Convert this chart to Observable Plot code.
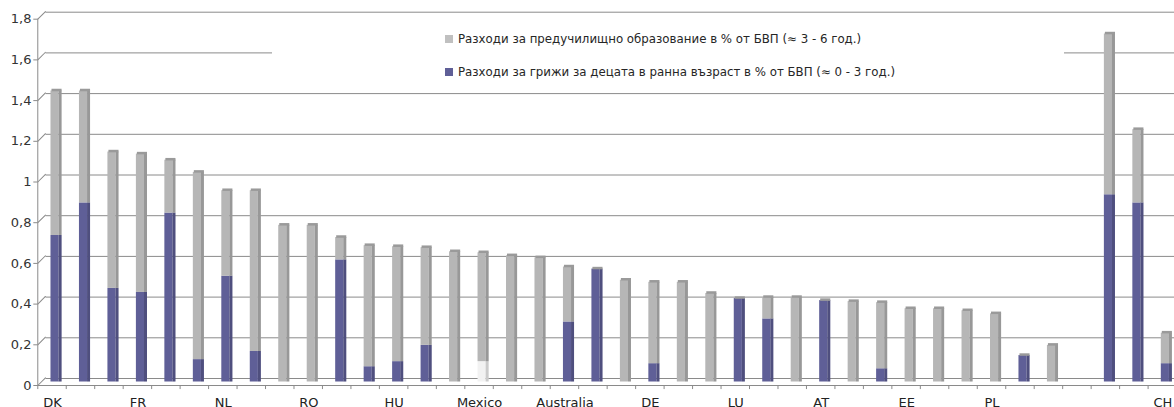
<!DOCTYPE html>
<html>
<head>
<meta charset="utf-8">
<script src="https://cdn.jsdelivr.net/npm/d3@7"></script>
<script src="https://cdn.jsdelivr.net/npm/@observablehq/plot@0.6"></script>
<style>
  html, body { margin: 0; padding: 0; background: #fff; overflow: hidden; }
  #wrap { position: relative; width: 1174px; height: 407px; font-family: "DejaVu Sans", sans-serif; }
  #legend { position: absolute; left: 272px; top: 22px; width: 792px; height: 62px; background: #fff; }
  .item { position: absolute; left: 173px; display: flex; align-items: center; height: 16px; font-size: 11.8px; color: #262626; white-space: nowrap; }
  .sw { width: 8px; height: 8px; margin-right: 5px; }
</style>
</head>
<body>
<div id="wrap"></div>
<script>
// Category labels (Excel shows only every third one)
const labels = ["DK","","","FR","","","NL","","","RO","","","HU","","","Mexico","","","Australia","","","DE","","","LU","","","AT","","","EE","","","PL","","","","","","CH"];
// Expenditure on early childhood care, % of GDP (≈ 0 - 3 years)
const careValues = [0.72,0.88,0.46,0.44,0.83,0.11,0.52,0.15,0,0,0.60,0.075,0.10,0.18,0,0.10,0,0,0.295,0.555,0,0.09,0,0,0.41,0.31,0,0.40,0,0.065,0,0,0,0,0.13,0,null,0.92,0.88,0.09];
// Expenditure on pre-primary education, % of GDP (≈ 3 - 6 years)
const preschoolValues = [0.71,0.55,0.67,0.68,0.26,0.92,0.42,0.79,0.77,0.77,0.11,0.595,0.565,0.48,0.64,0.535,0.62,0.61,0.27,0,0.50,0.40,0.49,0.435,0,0.105,0.415,0,0.395,0.325,0.36,0.36,0.35,0.335,0,0.18,null,0.79,0.36,0.15];
const yTicks = [0,0.2,0.4,0.6,0.8,1,1.2,1.4,1.6,1.8];
const legendLabels = [
  "Разходи за предучилищно образование в % от БВП (≈ 3 - 6 год.)",
  "Разходи за грижи за децата в ранна възраст в % от БВП (≈ 0 - 3 год.)"
];

const idx = d3.range(labels.length);
const rows = [];
const totals = [];
idx.forEach(i => {
  if (careValues[i] != null) rows.push({i, kind: labels[i] === "Mexico" ? "mexico" : "care", value: careValues[i]});
  if (preschoolValues[i] != null) rows.push({i, kind: "pre", value: preschoolValues[i]});
  if (careValues[i] != null || preschoolValues[i] != null) totals.push({i, total: (careValues[i] || 0) + (preschoolValues[i] || 0)});
});

const colors = {pre: "#b6b6b6", care: "#5f5f97", mexico: "#f2f2f2"};
const axisColor = "#8a8a8a";
const lineShape = {draw(context, l) { context.moveTo(0, 0); context.lineTo(0, -l); }};

const chart = Plot.plot({
  width: 1174,
  height: 407,
  marginLeft: 41.8,
  marginRight: -6.6,
  marginTop: 15.2,
  marginBottom: 25.5,
  style: {fontFamily: "DejaVu Sans, sans-serif", fontSize: "13px", color: "#333", background: "transparent", overflow: "visible"},
  x: {type: "band", domain: idx, paddingInner: 0.61, paddingOuter: 0.305, round: false, axis: null},
  y: {domain: [0, 1.8], axis: null},
  color: {domain: ["pre", "care", "mexico"], range: [colors.pre, colors.care, colors.mexico]},
  marks: [
    // back-wall gridlines
    Plot.ruleY(yTicks, {dy: -3.5, insetLeft: 3.7, stroke: axisColor, strokeWidth: 1}),
    // 3D connectors from front axis ticks to back wall
    Plot.vector(yTicks, {x: () => 0, y: d => d, dx: -18.74, dy: 3.5, length: 10.8, rotate: 45, anchor: "start",
      shape: lineShape, stroke: axisColor, strokeWidth: 1}),
    // bars (front face)
    Plot.barY(rows, Plot.stackY({x: "i", y: "value", fill: "kind", insetRight: 3})),
    // bars (right side face, darker)
    Plot.barY(rows, Plot.stackY({x: "i", y: "value", fill: "kind", insetLeft: 8.1})),
    Plot.barY(rows, Plot.stackY({x: "i", y: "value", fill: "black", fillOpacity: 0.16, insetLeft: 8.1})),
    // top caps
    Plot.tickY(totals, {x: "i", y: "total", stroke: "#9a9a9a", strokeWidth: 2.5, dy: -1, dx: 1, insetRight: 1}),
    // front axes
    Plot.ruleY([0], {dy: 3.5, dx: -4.5, stroke: axisColor}),
    Plot.ruleX([0], {x: d => d, y1: 0, y2: 1.8, dx: -18.74, dy: 3.5, stroke: axisColor}),
    // x ticks at category boundaries
    Plot.ruleX(idx, {x: d => d, y1: 0, y2: -0.02, dx: 9.7, dy: 3.5, stroke: axisColor}),
    Plot.ruleX([0], {x: d => d, y1: 0, y2: -0.02, dx: -18.74, dy: 3.5, stroke: axisColor}),
    // y axis
    Plot.axisY(yTicks, {anchor: "left", label: null, tickSize: 4, tickPadding: 2.3, dx: -4.5, dy: 3.5, stroke: axisColor,
      tickFormat: d => String(d).replace(".", ","), fill: "#333", fontSize: 13}),
    // x labels
    Plot.axisX(idx, {anchor: "bottom", label: null, tickSize: 0, tickPadding: 15.5, dx: -4, tickFormat: i => labels[i], fill: "#222", fontSize: 13})
  ]
});

const wrap = document.getElementById("wrap");
wrap.appendChild(chart);

const legend = document.createElement("div");
legend.id = "legend";
const items = [
  {label: legendLabels[0], color: "#c0c0c0", top: 9},
  {label: legendLabels[1], color: colors.care, top: 42}
];
items.forEach(it => {
  const row = document.createElement("div");
  row.className = "item";
  row.style.top = it.top + "px";
  const sw = document.createElement("div");
  sw.className = "sw";
  sw.style.background = it.color;
  const tx = document.createElement("span");
  tx.textContent = it.label;
  row.appendChild(sw);
  row.appendChild(tx);
  legend.appendChild(row);
});
wrap.appendChild(legend);
</script>
</body>
</html>
